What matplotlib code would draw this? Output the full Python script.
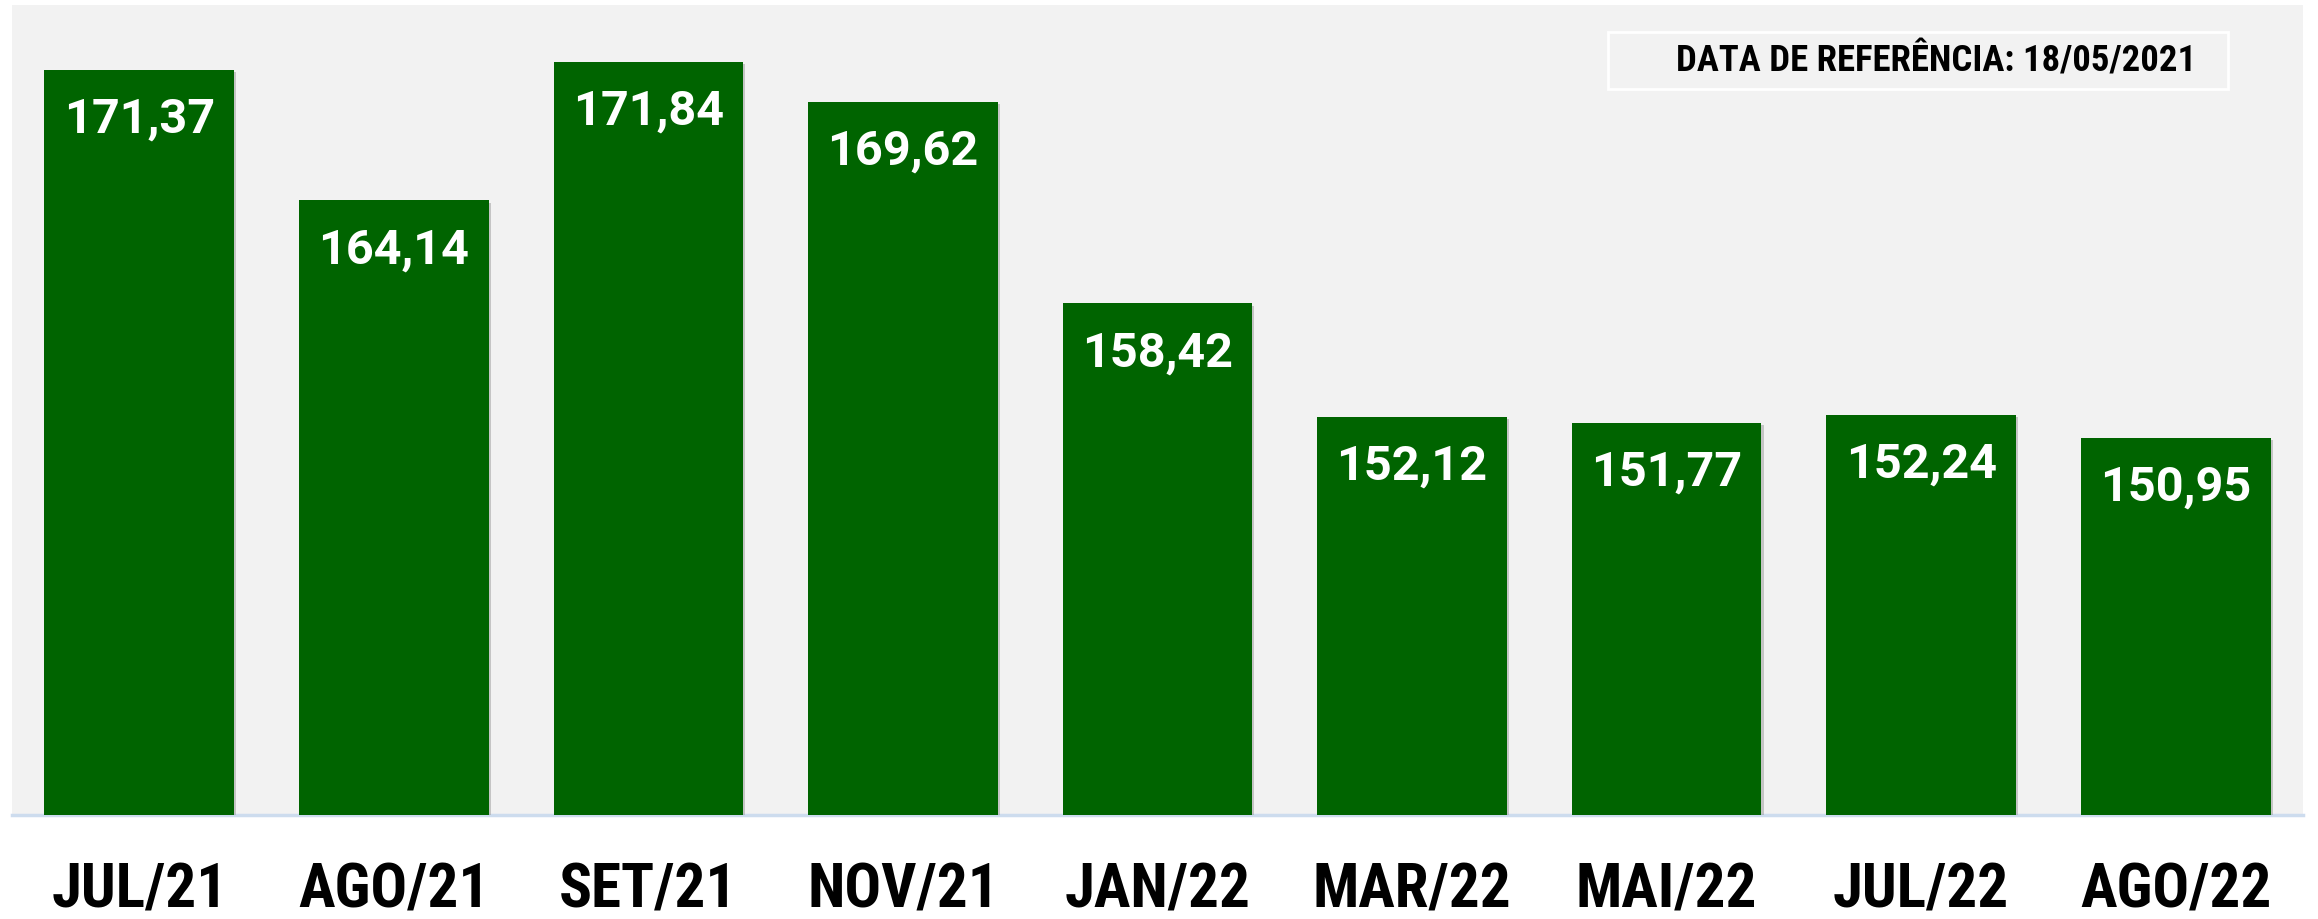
import matplotlib
matplotlib.use("Agg")
import matplotlib.pyplot as plt
import matplotlib.patheffects as pe
from matplotlib.patches import Rectangle
from matplotlib import font_manager as fm

# data
meses = ["JUL/21", "AGO/21", "SET/21", "NOV/21", "JAN/22", "MAR/22", "MAI/22", "JUL/22", "AGO/22"]
valores = [171.37, 164.14, 171.84, 169.62, 158.42, 152.12, 151.77, 152.24, 150.95]
data_ref = "DATA DE REFERÊNCIA: 18/05/2021"

# pick a condensed bold face if one is around
nomes = {f.name for f in fm.fontManager.ttflist}
cond = next((n for n in ["Roboto Condensed", "Liberation Sans Narrow", "DejaVu Sans"] if n in nomes), "DejaVu Sans")
main_font = "Roboto" if "Roboto" in nomes else "DejaVu Sans"

fig = plt.figure(figsize=(23.18, 9.2), dpi=100)
ax = fig.add_axes([12 / 2318, 104 / 920, 2291 / 2318, 810 / 920])
ax.set_facecolor("#f2f2f2")

x = range(len(meses))
bars = ax.bar(x, valores, width=0.745, color="#006400", zorder=3)
for b in bars:
    b.set_path_effects([pe.SimplePatchShadow(offset=(1.5, -1.5), shadow_rgbFace="#9a9a9a", alpha=0.5), pe.Normal()])

for xi, v in zip(x, valores):
    ax.annotate(f"{v:.2f}".replace(".", ","), (xi, v), xytext=(0, -35), textcoords="offset points",
                ha="center", va="center", color="white", fontsize=35, fontweight="bold",
                family=main_font, zorder=4)

ax.set_xlim(-0.5, 8.5)
ax.set_ylim(130, 175)
ax.set_yticks([])
ax.set_xticks(list(x))
ax.set_xticklabels(meses, fontsize=44, fontweight="heavy", family=cond, fontstretch="condensed")
ax.tick_params(axis="x", length=0, pad=33)
for s in ["top", "right", "left"]:
    ax.spines[s].set_visible(False)
ax.spines["bottom"].set_color("#cddcee")
ax.spines["bottom"].set_linewidth(2.5)

# reference date box
ax.add_patch(Rectangle((0.6966, 0.8963), 0.2707, 0.0704, transform=ax.transAxes,
                       facecolor="none", edgecolor="white", linewidth=2, zorder=5))
ax.text(0.840, 0.9315, data_ref, transform=ax.transAxes, ha="center", va="center",
        fontsize=26.5, fontweight="heavy", family=cond, fontstretch="condensed", color="black", zorder=5)

fig.savefig("out.png", dpi=100, facecolor="white")
